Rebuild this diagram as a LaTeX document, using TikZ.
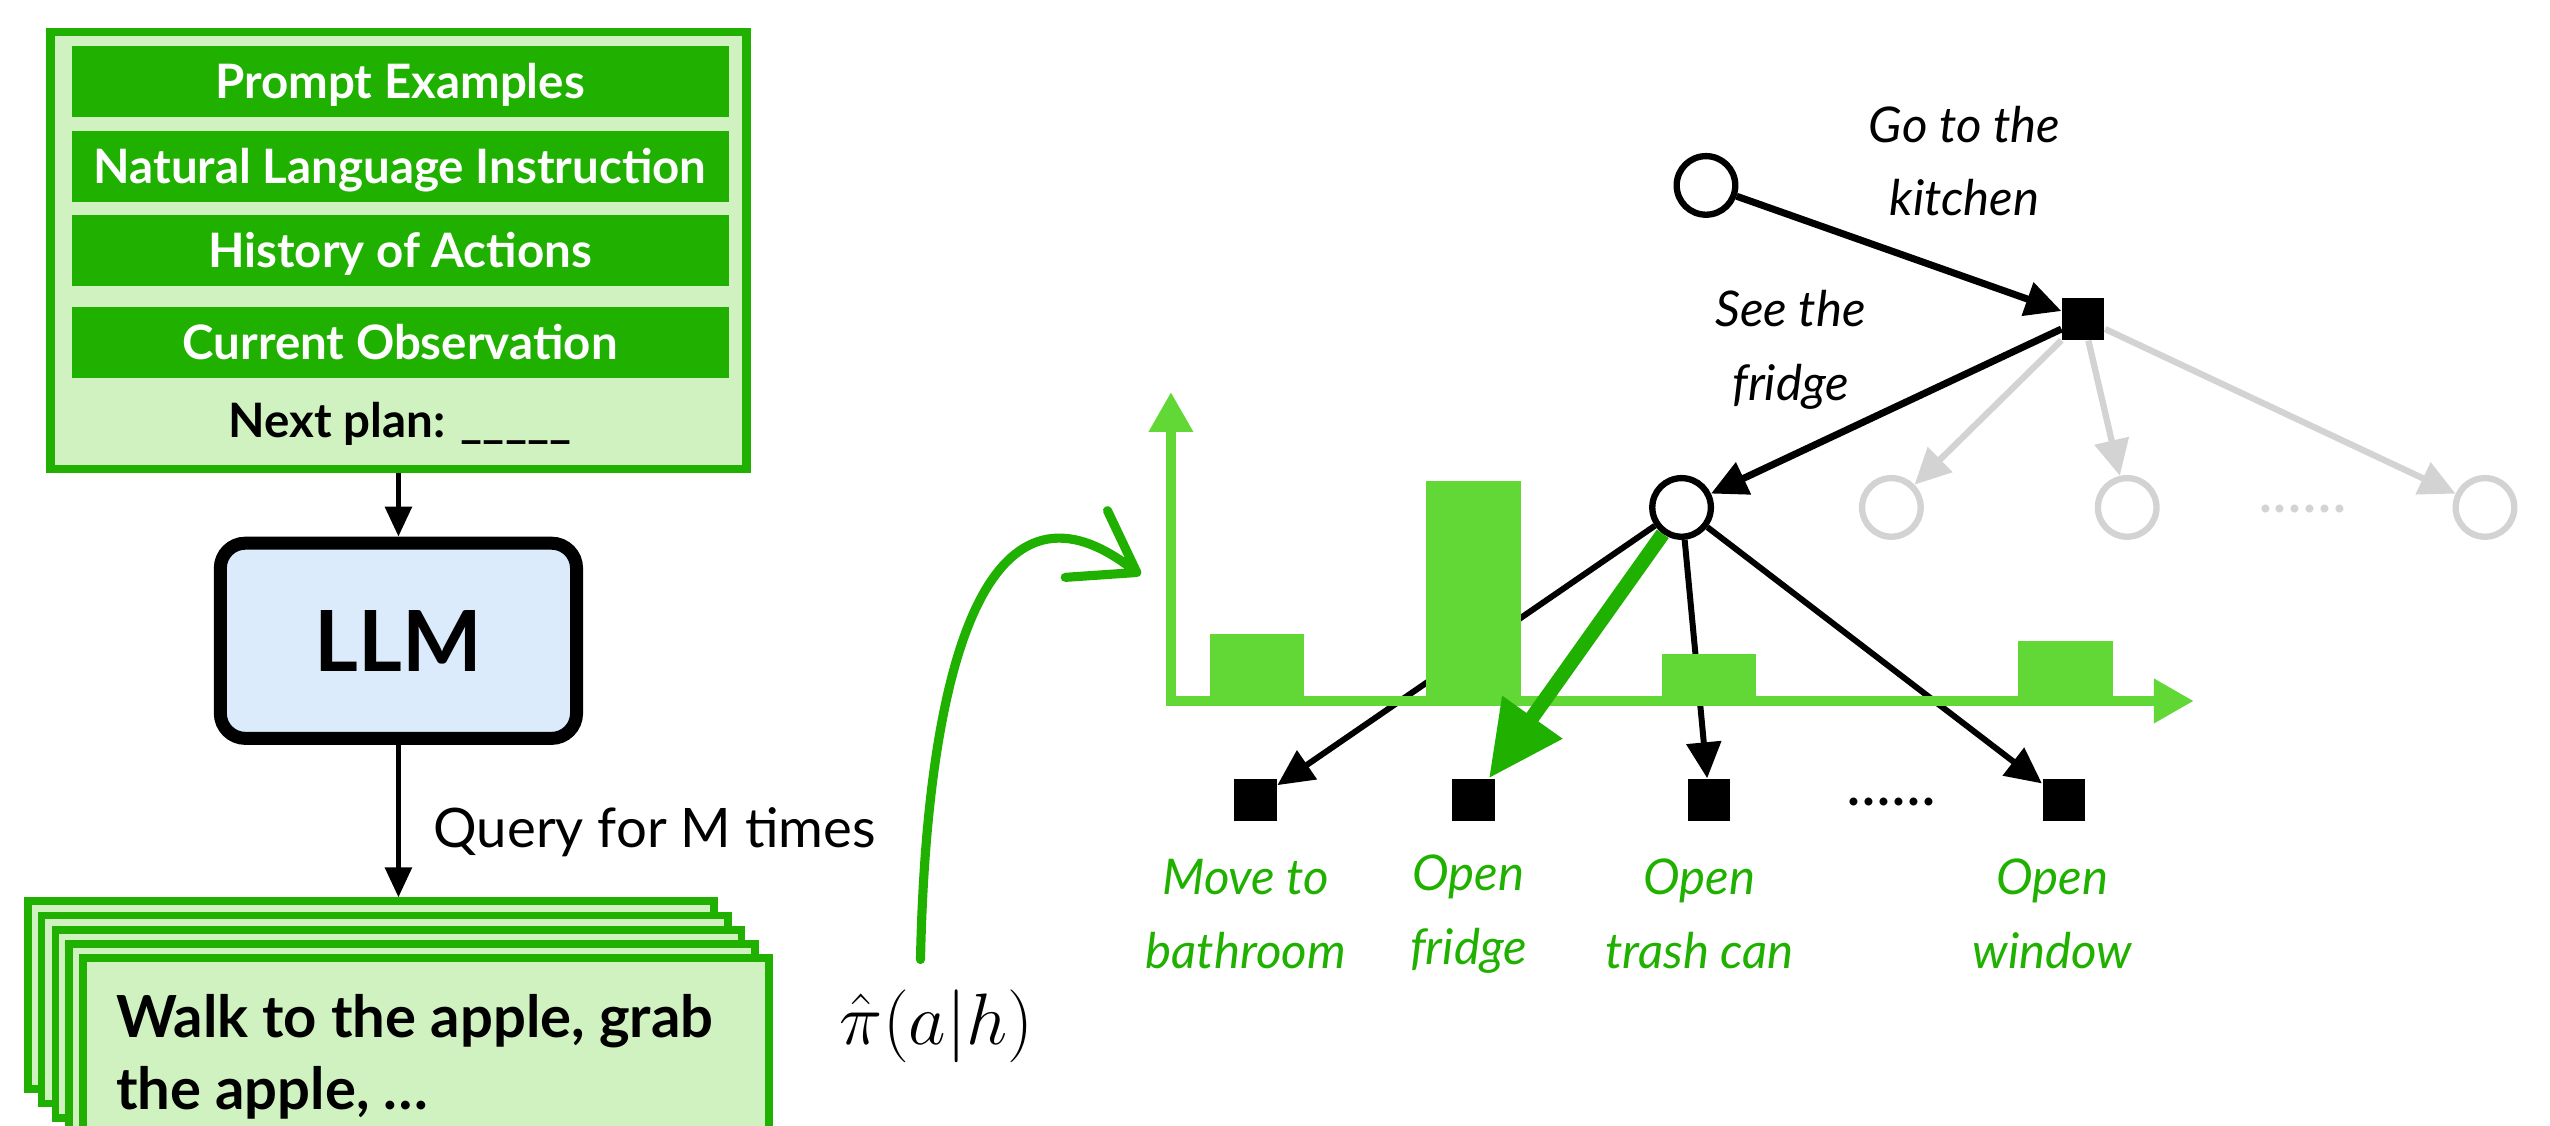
\documentclass[tikz,border=0pt]{standalone}
\usepackage[no-math]{fontspec}
\setmainfont{Lato}
\usepackage{amsmath}
\usetikzlibrary{arrows.meta,calc}

\definecolor{pgreen}{HTML}{1FB000}
\definecolor{plight}{HTML}{D0F2C0}
\definecolor{pbar}{HTML}{62D836}
\definecolor{llmblue}{HTML}{DBEBFC}
\definecolor{tgray}{HTML}{D3D3D3}

\begin{document}
\begin{tikzpicture}[x=0.16263mm,y=-0.16263mm,
  slot/.style={fill=pgreen,text=white,inner sep=0pt,minimum width=65.7mm,minimum height=7.1mm,text height=9.7pt,text depth=0pt,font=\fontsize{13.5}{16}\selectfont\bfseries},
  card/.style={draw=pgreen,fill=plight,line width=2.2pt,minimum width=68.6mm,minimum height=18.8mm},
  flow/.style={line width=1.6pt,-{Triangle[length=3mm,width=2.6mm]}},
  state/.style={circle,draw,fill=white,line width=1.8pt,inner sep=0pt,minimum size=5.86mm},
  act/.style={fill=black,inner sep=0pt,minimum size=4.23mm},
  edge/.style={line width=2pt,-{Triangle[length=3.6mm,width=3.4mm]}},
  hand/.style={font=\fontsize{14}{21}\selectfont\itshape,align=center,inner sep=0pt}]
\useasboundingbox (0,0) rectangle (1568,691.8);
\clip (0,0) rectangle (1568,691.8);

\node[draw=pgreen,fill=plight,line width=2.5pt,minimum width=69.6mm,minimum height=43.7mm] (prompt) at (245,154) {};
\node[slot] (examples) at (246,50) {Prompt Examples};
\node[slot] (instr) at (246,102.5) {Natural Language Instruction};
\node[slot] (history) at (246,154) {History of Actions};
\node[slot] (obs) at (246,210.5) {Current Observation};
\node[anchor=base,font=\fontsize{13.5}{16}\selectfont\bfseries] (next) at (246,269) {Next plan: \_\_\_\_\_};

\node[draw,line width=3.7pt,rounded corners=2.5mm,fill=llmblue,minimum width=35.62mm,minimum height=19.52mm,font=\fontsize{24}{28}\selectfont\bfseries] (llm) at (245,394) {LLM};

\foreach \i in {0,...,4}
  \node[card] (card\i) at (228+8.5*\i,612+8.75*\i) {};
\node[anchor=north west,align=left,inner sep=0pt,font=\fontsize{16.5}{20.4}\selectfont\bfseries] (sample) at (71,611) {Walk to the apple, grab\\the apple, \dots};

\draw[flow] (prompt) -- (llm);
\draw[flow] (llm) -- (llm.south |- card0.north);
\node[anchor=base west,font=\fontsize{15.5}{18}\selectfont] (query) at (259,521) {Query for M times};

\node[anchor=base,font=\fontsize{22.7}{26}\selectfont] (policy) at (576,642) {$\hat{\pi}(a|h)$};
\coordinate (swirl) at (566,590);
\coordinate (swirltip) at (699,352);
\draw[pgreen,line width=2.6pt,line cap=round,line join=round] (swirl) .. controls (570,400) and (610,280) .. (swirltip) -- ++(-18,-38) (swirltip) -- ++(-44,3);

\node[state] (root) at (1049,114) {};
\node[act] (kitchen) at (1281,196) {};
\node[state] (fridge) at (1034,312) {};
\node[state,draw=tgray] (g1) at (1163,312) {};
\node[state,draw=tgray] (g2) at (1308,312) {};
\node[state,draw=tgray] (g3) at (1528,312) {};
\node[hand,text=tgray,font=\fontsize{18}{21}\selectfont] (gdots) at (1416,313) {......};
\node[act] (a1) at (772,492) {};
\node[act] (a2) at (906,492) {};
\node[act] (a3) at (1051,492) {};
\node[act] (a4) at (1269,492) {};
\node[hand,font=\fontsize{18}{21}\selectfont] (bdots) at (1163,493) {......};

\node[hand] (go) at (1208,99) {Go to the\\kitchen};
\node[hand] (see) at (1101,215) {See the\\fridge};
\node[hand,text=pgreen] (l1) at (766,562) {Move to\\bathroom};
\node[hand,text=pgreen] (l2) at (903,562) {Open\\fridge};
\node[hand,text=pgreen] (l3) at (1045,562) {Open\\trash can};
\node[hand,text=pgreen] (l4) at (1262,562) {Open\\window};

\draw[edge] (root) -- (kitchen);
\draw[edge] (kitchen) -- (fridge);
\foreach \g in {g1,g2,g3}
  \draw[edge,tgray,line width=1.8pt] (kitchen) -- (\g);
\foreach \a in {a1,a3,a4}
  \draw[edge,line width=1.7pt] (fridge) -- (\a);

\foreach \x/\h in {744/390,877/296,1022/402,1241/394}
  \fill[pbar] (\x,431) rectangle (\x+58,\h);
\coordinate (origin) at (720,431);
\coordinate (yend) at (720,241);
\coordinate (xend) at (1349,431);
\draw[pbar,line width=2.8pt,{Triangle[length=4mm,width=4.2mm]}-{Triangle[length=4mm,width=4.2mm]}] (yend) -- (origin) -- (xend);

\draw[pgreen,line width=4.15pt,-{Triangle[length=7.5mm,width=7mm]}] (fridge) -- (a2);
\end{tikzpicture}
\end{document}
